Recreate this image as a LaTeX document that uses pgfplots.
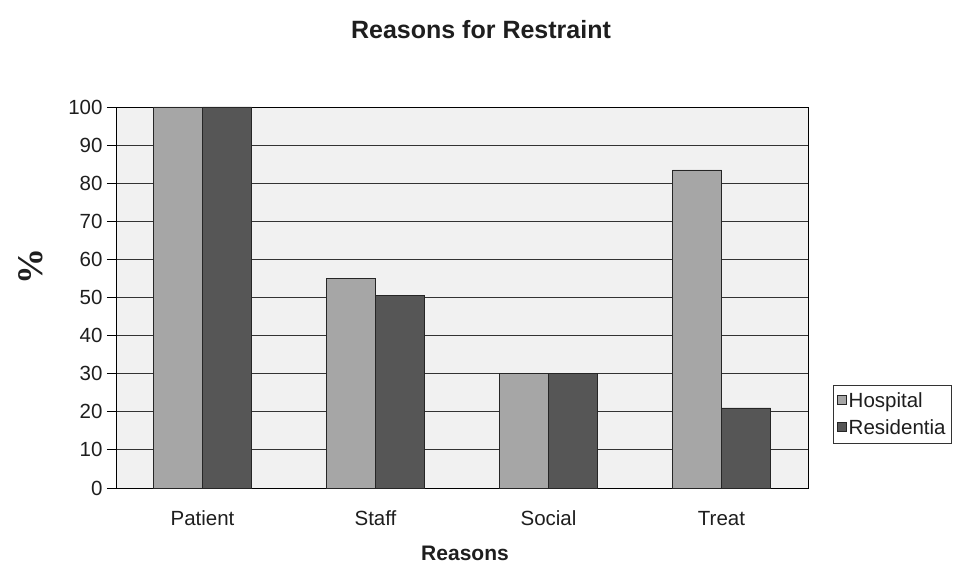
\documentclass[border=0pt]{standalone}
\usepackage{pgfplots}
\pgfplotsset{compat=1.18}
\usepackage{fontspec}
\setmainfont{Liberation Sans}
\newfontfamily\serifb{Liberation Serif}
\definecolor{hosp}{HTML}{A6A6A6}
\definecolor{resi}{HTML}{565656}
\definecolor{bgc}{HTML}{F1F1F1}
\definecolor{txt}{HTML}{1E1E1E}
\begin{document}
\begin{tikzpicture}
\useasboundingbox (0pt,0pt) rectangle (963pt,-564pt);
\begin{axis}[
  at={(116pt,-488pt)}, anchor=south west,
  scale only axis, width=692pt, height=381pt,
  xmin=-0.5, xmax=3.5, ymin=0, ymax=100,
  ybar=0pt, bar width=49pt,
  axis background/.style={fill=bgc},
  axis line style={black, line width=0.9pt},
  xtick={0,1,2,3},
  xticklabels={Patient,Staff,Social,Treat},
  x tick style={draw=none},
  extra x ticks={-0.5,0.5,1.5,2.5,3.5},
  extra x tick labels={},
  extra x tick style={major tick length=11pt, tick style={draw=black, line width=0.9pt}, tick pos=lower, xtick align=outside},
  xticklabel style={font=\fontsize{20.5}{24}\selectfont, text=txt, text height=0.72em, text depth=0.22em, yshift=-18pt},
  ytick={0,10,...,100},
  ymajorgrids,
  grid style={draw=black!80, line width=0.9pt},
  ytick pos=left, ytick align=outside,
  y tick style={line width=0.9pt, black},
  major tick length=9pt,
  yticklabel style={font=\fontsize{20.5}{24}\selectfont, text=txt, xshift=-1pt},
  /pgf/number format/assume math mode=true,
  legend style={at={(1.036,0.27)}, anchor=north west, draw=black!80, line width=0.8pt,
    font=\fontsize{20.5}{24}\selectfont, text=txt, inner xsep=4pt, inner ysep=5pt, row sep=7pt},
  legend cell align=left,
  legend image code/.code={\draw[#1, line width=0.4pt] (4pt,-3pt) rectangle (13pt,6pt);},
]
\addplot[fill=hosp, draw=black!85, line width=0.6pt] coordinates {(0,100) (1,55) (2,30) (3,83.5)};
\addplot[fill=resi, draw=black!85, line width=0.6pt] coordinates {(0,100) (1,50.5) (2,30) (3,21)};
\legend{Hospital,Residentia}
\end{axis}
\node[font=\fontsize{25}{29}\selectfont\bfseries, text=txt] at (481pt,-30pt) {Reasons for Restraint};
\node[font=\fontsize{21}{25}\selectfont\bfseries, text=txt] at (465pt,-553pt) {Reasons};
\node[font=\fontsize{36}{40}\selectfont\serifb\bfseries, text=txt, rotate=90] at (31pt,-266pt) {\%};
\end{tikzpicture}
\end{document}
